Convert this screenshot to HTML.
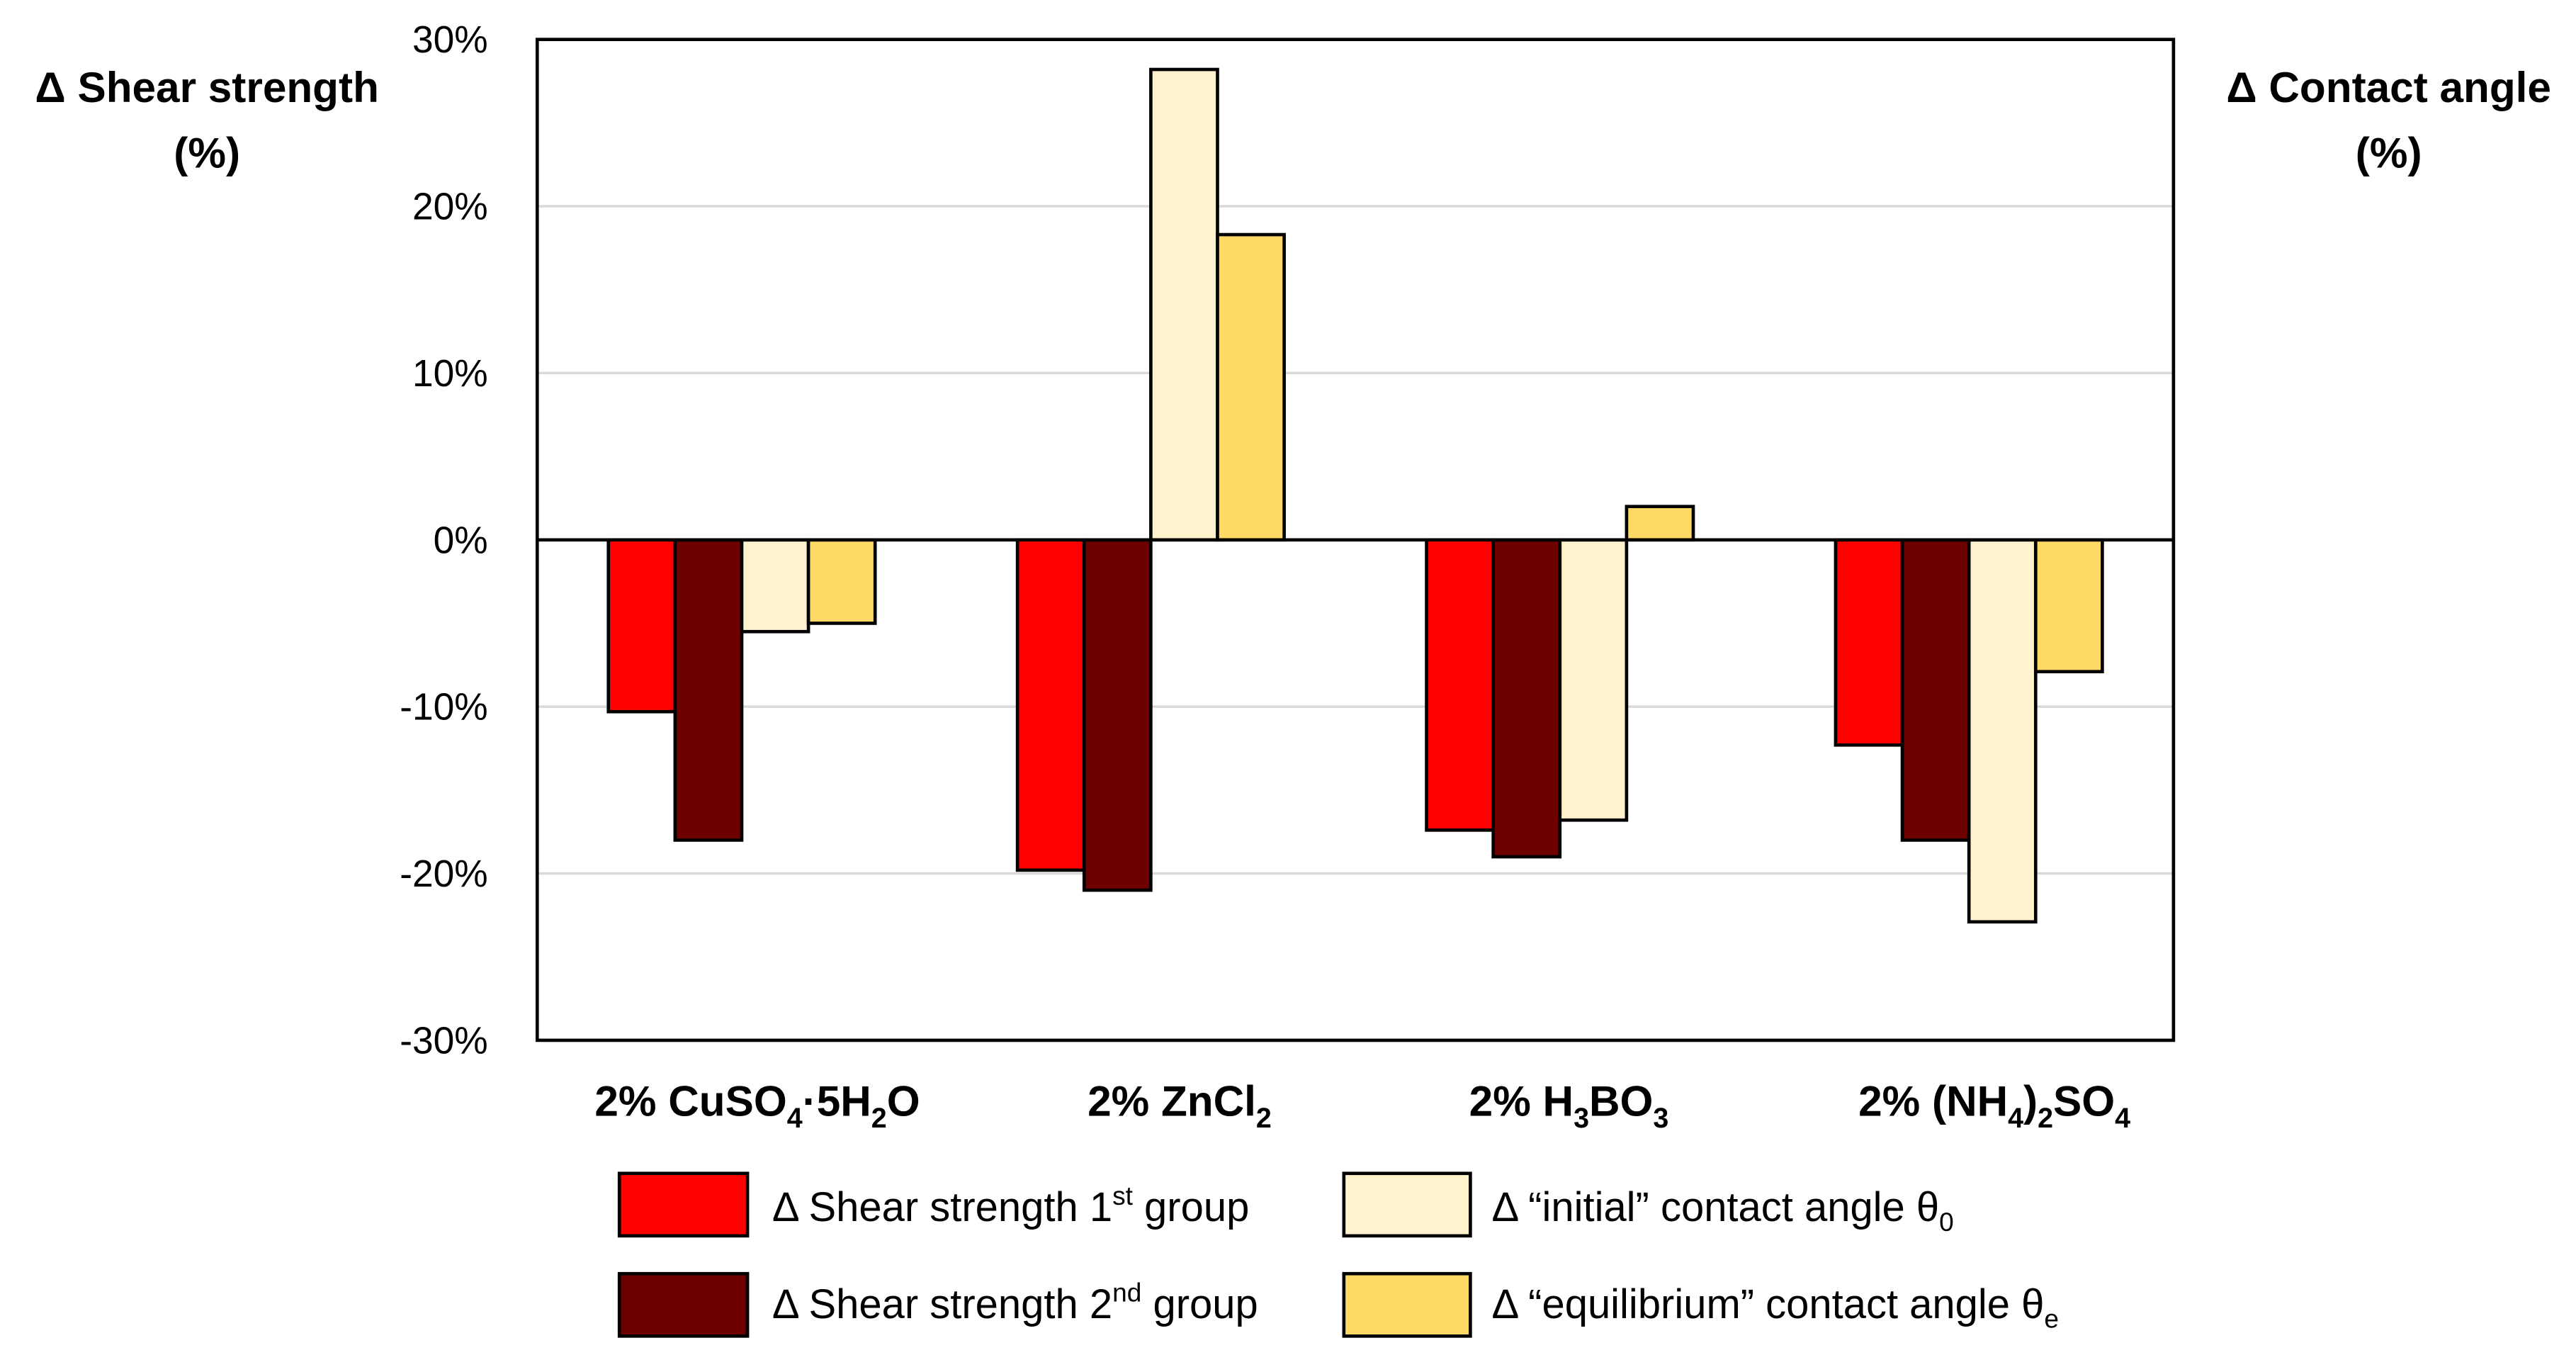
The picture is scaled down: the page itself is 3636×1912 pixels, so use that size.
<!DOCTYPE html>
<html><head><meta charset="utf-8"><style>html,body{margin:0;padding:0;background:#fff}svg{display:block}</style></head>
<body>
<svg id="chart" width="3636" height="1912" viewBox="0 0 1568 824.5" preserveAspectRatio="none" xmlns="http://www.w3.org/2000/svg" font-family="'Liberation Sans', sans-serif">
<g id="grid"></g>
<g id="bars"></g>
<g id="axes"></g>
<g id="ticks" font-size="23" text-anchor="end"></g>
<text x="126" y="62" font-size="26" font-weight="bold" text-anchor="middle">Δ Shear strength</text>
<text x="126" y="102" font-size="26" font-weight="bold" text-anchor="middle">(%)</text>
<text x="1454" y="62" font-size="26" font-weight="bold" text-anchor="middle">Δ Contact angle</text>
<text x="1454" y="102" font-size="26" font-weight="bold" text-anchor="middle">(%)</text>
<g font-size="26" font-weight="bold" text-anchor="middle">
<text x="461" y="679">2% CuSO<tspan font-size="17" dy="7">4</tspan><tspan dy="-7">·5H</tspan><tspan font-size="17" dy="7">2</tspan><tspan dy="-7">O</tspan></text>
<text x="718" y="679">2% ZnCl<tspan font-size="17" dy="7">2</tspan></text>
<text x="955" y="679">2% H<tspan font-size="17" dy="7">3</tspan><tspan dy="-7">BO</tspan><tspan font-size="17" dy="7">3</tspan></text>
<text x="1214" y="679">2% (NH<tspan font-size="17" dy="7">4</tspan><tspan dy="-7">)</tspan><tspan font-size="17" dy="7">2</tspan><tspan dy="-7">SO</tspan><tspan font-size="17" dy="7">4</tspan></text>
</g>
<g font-size="25">
<rect x="377" y="714" width="78" height="38" fill="#ff0000" stroke="#000" stroke-width="2"/>
<text x="470" y="743">Δ Shear strength 1<tspan font-size="16" dy="-10">st</tspan><tspan dy="10"> group</tspan></text>
<rect x="377" y="775" width="78" height="38" fill="#6e0000" stroke="#000" stroke-width="2"/>
<text x="470" y="802">Δ Shear strength 2<tspan font-size="16" dy="-10">nd</tspan><tspan dy="10"> group</tspan></text>
<rect x="818" y="714" width="77" height="38" fill="#fff2cc" stroke="#000" stroke-width="2"/>
<text x="908" y="743">Δ “initial” contact angle θ<tspan font-size="16" dy="6">0</tspan></text>
<rect x="818" y="775" width="77" height="38" fill="#ffd966" stroke="#000" stroke-width="2"/>
<text x="908" y="802">Δ “equilibrium” contact angle θ<tspan font-size="16" dy="6">e</tspan></text>
</g>
</svg>
<script>
const categories = ['2% CuSO4·5H2O', '2% ZnCl2', '2% H3BO3', '2% (NH4)2SO4'];
const shear1 = [-10.3, -19.8, -17.4, -12.3];
const shear2 = [-18.0, -21.0, -19.0, -18.0];
const initialAngle = [-5.5, 28.2, -16.8, -22.9];
const equilibriumAngle = [-5.0, 18.3, 2.0, -7.9];
const tickValues = [-30, -20, -10, 0, 10, 20, 30];
const tickLabels = ['-30%', '-20%', '-10%', '0%', '10%', '20%', '30%'];
const seriesNames = ['shear-1', 'shear-2', 'initial-angle', 'equilibrium-angle'];
const seriesColors = ['#ff0000', '#6e0000', '#fff2cc', '#ffd966'];

const NS = 'http://www.w3.org/2000/svg';
const L = 327, R = 1323, T = 24, B = 633;
const yMin = -30, yMax = 30;
function y(v) { return B - (v - yMin) / (yMax - yMin) * (B - T); }
const catW = (R - L) / categories.length;
const barW = catW * 0.163;
function xBar(ci, si) { return L + ci * catW + catW / 2 - 2 * barW + si * barW; }
function mk(tag, attrs, parent) { const e = document.createElementNS(NS, tag); for (const k in attrs) e.setAttribute(k, attrs[k]); parent.appendChild(e); return e; }

const grid = document.getElementById('grid');
const ticks = document.getElementById('ticks');
tickValues.forEach((v, i) => {
  if (v !== yMin && v !== yMax && v !== 0) {
    const g = mk('line', { x1: L, x2: R, y1: y(v), y2: y(v), stroke: '#d9d9d9', 'stroke-width': 1.5 }, grid);
    
    
  }
  const t = mk('text', { x: 297, y: y(v) + 8 }, ticks);
  t.textContent = tickLabels[i];
  
  
});

const bars = document.getElementById('bars');
const series = [shear1, shear2, initialAngle, equilibriumAngle];
series.forEach((vals, si) => {
  vals.forEach((v, ci) => {
    const y0 = y(0), y1 = y(v);
    const r = mk('rect', { x: xBar(ci, si), y: Math.min(y0, y1), width: barW, height: Math.abs(y1 - y0), fill: seriesColors[si], stroke: '#000', 'stroke-width': 2 }, bars);
    
    
  });
});

const axes = document.getElementById('axes');
const frame = mk('rect', { x: L, y: T, width: R - L, height: B - T, fill: 'none', stroke: '#000', 'stroke-width': 2 }, axes);


const zero = mk('line', { x1: L, x2: R, y1: y(0), y2: y(0), stroke: '#000', 'stroke-width': 2 }, axes);


</script>
</body></html>
